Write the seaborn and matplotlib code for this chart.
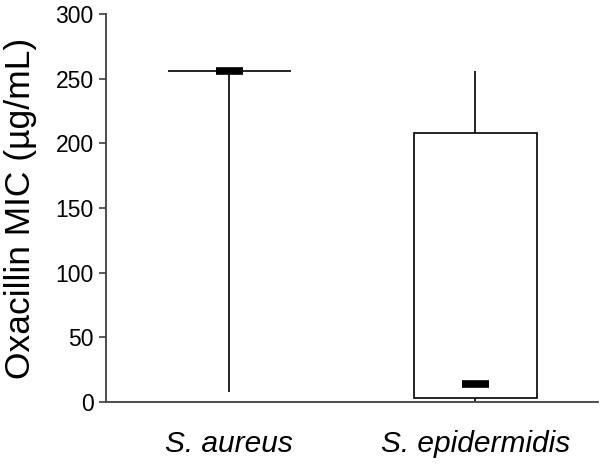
import numpy as np
import pandas as pd
import matplotlib
matplotlib.use("Agg")
import matplotlib.pyplot as plt
import seaborn as sns

# five-number summaries (min, Q1, median, Q3, max)
species = ["S. aureus", "S. epidermidis"]
aureus_mic = [8, 256, 256, 256, 256]
epidermidis_mic = [0.5, 3, 14, 208, 256]
y_ticks = [0, 50, 100, 150, 200, 250, 300]

df = pd.DataFrame({
    "species": [species[0]] * len(aureus_mic) + [species[1]] * len(epidermidis_mic),
    "mic": aureus_mic + epidermidis_mic,
})

sns.set_style("ticks")
plt.rcParams["font.family"] = ["Liberation Sans", "DejaVu Sans"]
plt.rcParams["text.color"] = "black"
plt.rcParams["axes.labelcolor"] = "black"
plt.rcParams["xtick.color"] = "black"
plt.rcParams["ytick.color"] = "black"

fig = plt.figure(figsize=(6.04, 4.67), dpi=100)
ax = fig.add_axes([0.1755, 0.139, 0.815, 0.831])

sns.boxplot(data=df, x="species", y="mic", order=species, ax=ax,
            color="white", linecolor="black", linewidth=1.2, width=0.5,
            whis=(0, 100), showcaps=False, showfliers=False,
            medianprops={"visible": False})

# short thick median bars, as in the original
medians = df.groupby("species")["mic"].median().reindex(species)
ax.hlines(medians.values, np.arange(len(species)) - 0.055,
          np.arange(len(species)) + 0.055, color="black", lw=5.5, zorder=5)

ax.set_ylim(0, 300)
ax.set_xlim(-0.5, 1.5)
ax.set_yticks(y_ticks)
ax.set_xlabel("")
ax.set_ylabel("Oxacillin MIC (µg/mL)", fontsize=25.5, labelpad=13)
ax.tick_params(axis="y", labelsize=16.5, length=5, width=1.2, color="#404040", pad=4)
ax.tick_params(axis="x", labelsize=21.5, length=0, pad=20)
for lbl in ax.get_xticklabels():
    lbl.set_fontstyle("italic")

sns.despine(ax=ax)
for s in ["left", "bottom"]:
    ax.spines[s].set_color("#404040")
    ax.spines[s].set_linewidth(1.3)

fig.savefig("out.png", dpi=100)
